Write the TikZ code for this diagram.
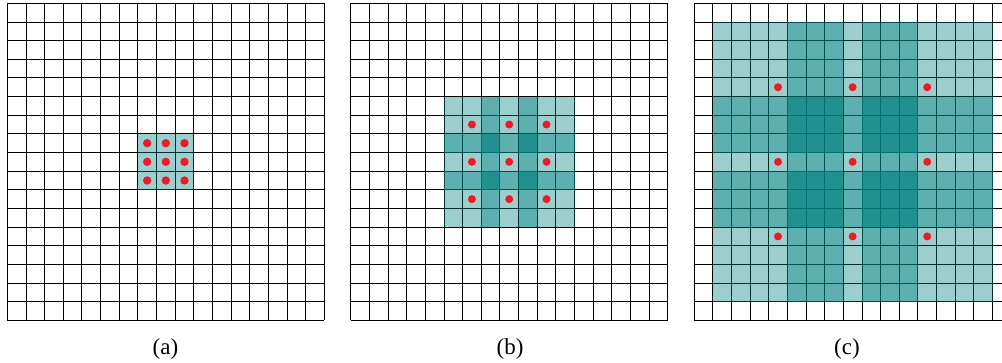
\documentclass[tikz,border=0pt]{standalone}
\usepackage{fontspec}
\setmainfont{Liberation Serif}
\begin{document}
\begin{tikzpicture}[x=1pt,y=-1pt,
  gridline/.style={draw=black,line width=0.9pt},
  lvz/.style={fill=teal,fill opacity=0.39},
  lvo/.style={fill=teal,fill opacity=0.63},
  lvt/.style={fill=teal,fill opacity=0.875},
  dot/.style={fill={rgb,255:red,236;green,28;blue,36}},
  caption/.style={font=\fontsize{23}{27}\selectfont,anchor=base,inner sep=0pt}]
\useasboundingbox (0,0) rectangle (1002,362);
\def\cs{18.65}
\def\gtop{3.3}
\def\gxa{7.3}
\def\gxb{350.7}
\def\gxc{694.1}
% grids
\foreach \gx in {\gxa,\gxb,\gxc}{
  \foreach \k in {0,...,17}{
    \draw[gridline] (\gx+\k*\cs,\gtop) -- (\gx+\k*\cs,\gtop+17*\cs);
    \draw[gridline] (\gx,\gtop+\k*\cs) -- (\gx+17*\cs,\gtop+\k*\cs);
  }
}
% (a) fills
\foreach \i in {7,8,9}{\foreach \j in {7,8,9}{
  \fill[lvz] (\gxa+\i*\cs,\gtop+\j*\cs) rectangle ++(\cs,\cs);
}}
% (b) fills
\foreach \i in {5,...,11}{\foreach \j in {5,...,11}{
  \pgfmathtruncatemacro\lv{(\i==7)+(\i==9)+(\j==7)+(\j==9)}
  \ifcase\lv
    \fill[lvz] (\gxb+\i*\cs,\gtop+\j*\cs) rectangle ++(\cs,\cs);
  \or
    \fill[lvo] (\gxb+\i*\cs,\gtop+\j*\cs) rectangle ++(\cs,\cs);
  \else
    \fill[lvt] (\gxb+\i*\cs,\gtop+\j*\cs) rectangle ++(\cs,\cs);
  \fi
}}
% (c) fills
\foreach \i in {1,...,15}{\foreach \j in {1,...,15}{
  \pgfmathtruncatemacro\lv{(\i>=5)*(\i<=11)*(\i!=8)+(\j>=5)*(\j<=11)*(\j!=8)}
  \ifcase\lv
    \fill[lvz] (\gxc+\i*\cs,\gtop+\j*\cs) rectangle ++(\cs,\cs);
  \or
    \fill[lvo] (\gxc+\i*\cs,\gtop+\j*\cs) rectangle ++(\cs,\cs);
  \else
    \fill[lvt] (\gxc+\i*\cs,\gtop+\j*\cs) rectangle ++(\cs,\cs);
  \fi
}}
% dots
\foreach \i in {7,8,9}{\foreach \j in {7,8,9}{
  \fill[dot] (\gxa+\i*\cs+0.5*\cs,\gtop+\j*\cs+0.5*\cs) circle (4.2pt);
}}
\foreach \i in {6,8,10}{\foreach \j in {6,8,10}{
  \fill[dot] (\gxb+\i*\cs+0.5*\cs,\gtop+\j*\cs+0.5*\cs) circle (4pt);
}}
\foreach \i in {4,8,12}{\foreach \j in {4,8,12}{
  \fill[dot] (\gxc+\i*\cs+0.5*\cs,\gtop+\j*\cs+0.5*\cs) circle (4pt);
}}
% captions
\node[caption] (capa) at (165.4,354) {(a)};
\node[caption] (capb) at (510,354) {(b)};
\node[caption] (capc) at (847,354) {(c)};
\end{tikzpicture}
\end{document}
